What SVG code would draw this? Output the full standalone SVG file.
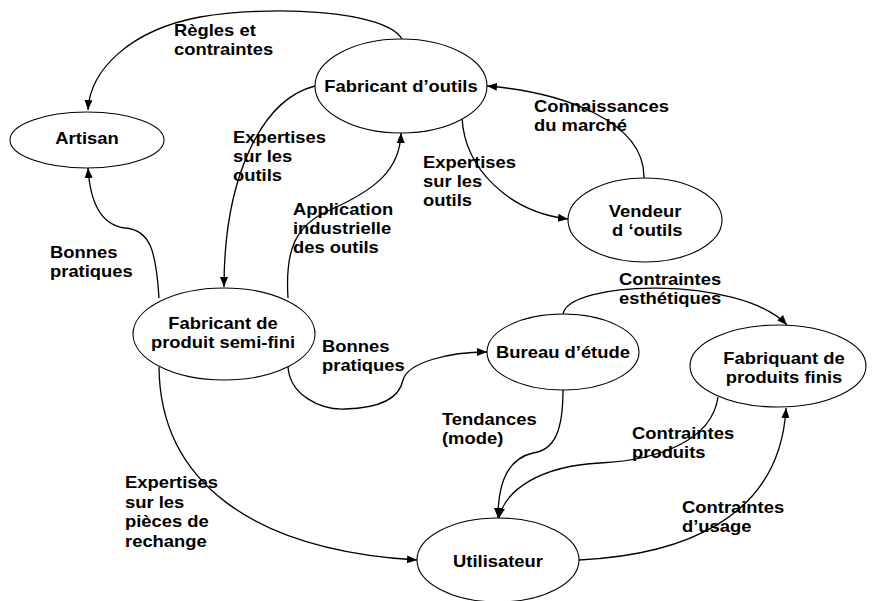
<svg xmlns="http://www.w3.org/2000/svg" width="873" height="601" viewBox="0 0 873 601">
<defs>
<style>
.n{fill:#fff;stroke:#000;stroke-width:1.1}
.c{fill:none;stroke:#000;stroke-width:1.3}
text{font-family:"Liberation Sans",Arial,sans-serif;font-weight:bold;font-size:16px;fill:#000}
.m{text-anchor:middle}
</style>
<marker id="a" viewBox="0 0 10 8" refX="10" refY="4" markerWidth="10" markerHeight="8" markerUnits="userSpaceOnUse" orient="auto">
<path d="M0,0 L10,4 L0,8 z" fill="#000"/>
</marker>
</defs>
<rect width="873" height="601" fill="#fff"/>
<g id="connectors">
<path class="c" marker-end="url(#a)" d="M402,39 C385,10 270,5 200,17 C130,30 90,70 88,110"/>
<path class="c" marker-end="url(#a)" d="M315,86 C260,100 224,180 224,287"/>
<path class="c" marker-end="url(#a)" d="M288,298 C285,250 295,225 330,210 C375,190 400,170 401,133"/>
<path class="c" marker-end="url(#a)" d="M159,298 C156,250 150,230 125,228 C100,225 90,200 88,168"/>
<path class="c" marker-end="url(#a)" d="M462,118 C465,170 510,212 568,219"/>
<path class="c" marker-end="url(#a)" d="M644,178 C645,120 560,92 487,86"/>
<path class="c" marker-end="url(#a)" d="M288,367 C290,395 320,410 345,409 C385,408 400,395 403,380 C408,362 450,352 487,352"/>
<path class="c" marker-end="url(#a)" d="M563,315 C565,280 740,275 787,325"/>
<path class="c" marker-end="url(#a)" d="M563,390 C563,430 555,450 533,453 C510,458 498,480 498,518"/>
<path class="c" marker-end="url(#a)" d="M718,397 C712,440 660,460 600,463 C540,466 505,490 499,518"/>
<path class="c" marker-end="url(#a)" d="M579,560 C680,555 780,520 786,408"/>
<path class="c" marker-end="url(#a)" d="M159,367 C160,480 250,550 417,560"/>
</g>
<g id="labels">
<text transform="translate(174,0) scale(1.15,1)"><tspan x="0" y="36">Règles et</tspan><tspan x="0" y="55">contraintes</tspan></text>
<text transform="translate(233,0) scale(1.15,1)"><tspan x="0" y="143.5">Expertises</tspan><tspan x="0" y="162.5">sur les</tspan><tspan x="0" y="181.5">outils</tspan></text>
<text transform="translate(293,0) scale(1.15,1)"><tspan x="0" y="215.5">Application</tspan><tspan x="0" y="234.5">industrielle</tspan><tspan x="0" y="253.5">des outils</tspan></text>
<text transform="translate(50,0) scale(1.15,1)"><tspan x="0" y="258">Bonnes</tspan><tspan x="0" y="277">pratiques</tspan></text>
<text transform="translate(534,0) scale(1.15,1)"><tspan x="0" y="112">Connaissances</tspan><tspan x="0" y="131">du marché</tspan></text>
<text transform="translate(423,0) scale(1.15,1)"><tspan x="0" y="168">Expertises</tspan><tspan x="0" y="187">sur les</tspan><tspan x="0" y="206">outils</tspan></text>
<text transform="translate(619,0) scale(1.15,1)"><tspan x="0" y="285">Contraintes</tspan><tspan x="0" y="304">esthétiques</tspan></text>
<text transform="translate(322,0) scale(1.15,1)"><tspan x="0" y="352">Bonnes</tspan><tspan x="0" y="371">pratiques</tspan></text>
<text transform="translate(125,0) scale(1.15,1)"><tspan x="0" y="488.5">Expertises</tspan><tspan x="0" y="508">sur les</tspan><tspan x="0" y="527.5">pièces de</tspan><tspan x="0" y="547">rechange</tspan></text>
<text transform="translate(442,0) scale(1.15,1)"><tspan x="0" y="425">Tendances</tspan><tspan x="0" y="444">(mode)</tspan></text>
<text transform="translate(632,0) scale(1.15,1)"><tspan x="0" y="439">Contraintes</tspan><tspan x="0" y="458">produits</tspan></text>
<text transform="translate(682,0) scale(1.15,1)"><tspan x="0" y="513">Contraintes</tspan><tspan x="0" y="532">d’usage</tspan></text>
</g>
<g id="artisan">
<ellipse class="n" cx="87" cy="140" rx="77" ry="28"/>
<text class="m" transform="translate(87,0) scale(1.15,1)" x="0" y="144">Artisan</text>
</g>
<g id="fabricant-outils">
<ellipse class="n" cx="401" cy="86" rx="86" ry="47"/>
<text class="m" transform="translate(401,0) scale(1.15,1)" x="0" y="92">Fabricant d’outils</text>
</g>
<g id="vendeur">
<ellipse class="n" cx="645" cy="220" rx="77" ry="42"/>
<text class="m" transform="translate(645,0) scale(1.15,1)"><tspan x="0" y="217">Vendeur</tspan><tspan x="2" y="236">d ‘outils</tspan></text>
</g>
<g id="semi-fini">
<ellipse class="n" cx="224" cy="334" rx="91" ry="46"/>
<text class="m" transform="translate(223,0) scale(1.15,1)"><tspan x="0" y="329">Fabricant de</tspan><tspan x="0" y="348">produit semi-fini</tspan></text>
</g>
<g id="bureau">
<ellipse class="n" cx="563" cy="352" rx="76" ry="38"/>
<text class="m" transform="translate(563,0) scale(1.15,1)" x="0" y="358">Bureau d’étude</text>
</g>
<g id="fabriquant-finis">
<ellipse class="n" cx="778" cy="366" rx="88" ry="41"/>
<text class="m" transform="translate(784,0) scale(1.15,1)"><tspan x="0" y="364">Fabriquant de</tspan><tspan x="0" y="383">produits finis</tspan></text>
</g>
<g id="utilisateur">
<ellipse class="n" cx="498" cy="560" rx="81" ry="42"/>
<text class="m" transform="translate(498,0) scale(1.15,1)" x="0" y="567">Utilisateur</text>
</g>
</svg>
